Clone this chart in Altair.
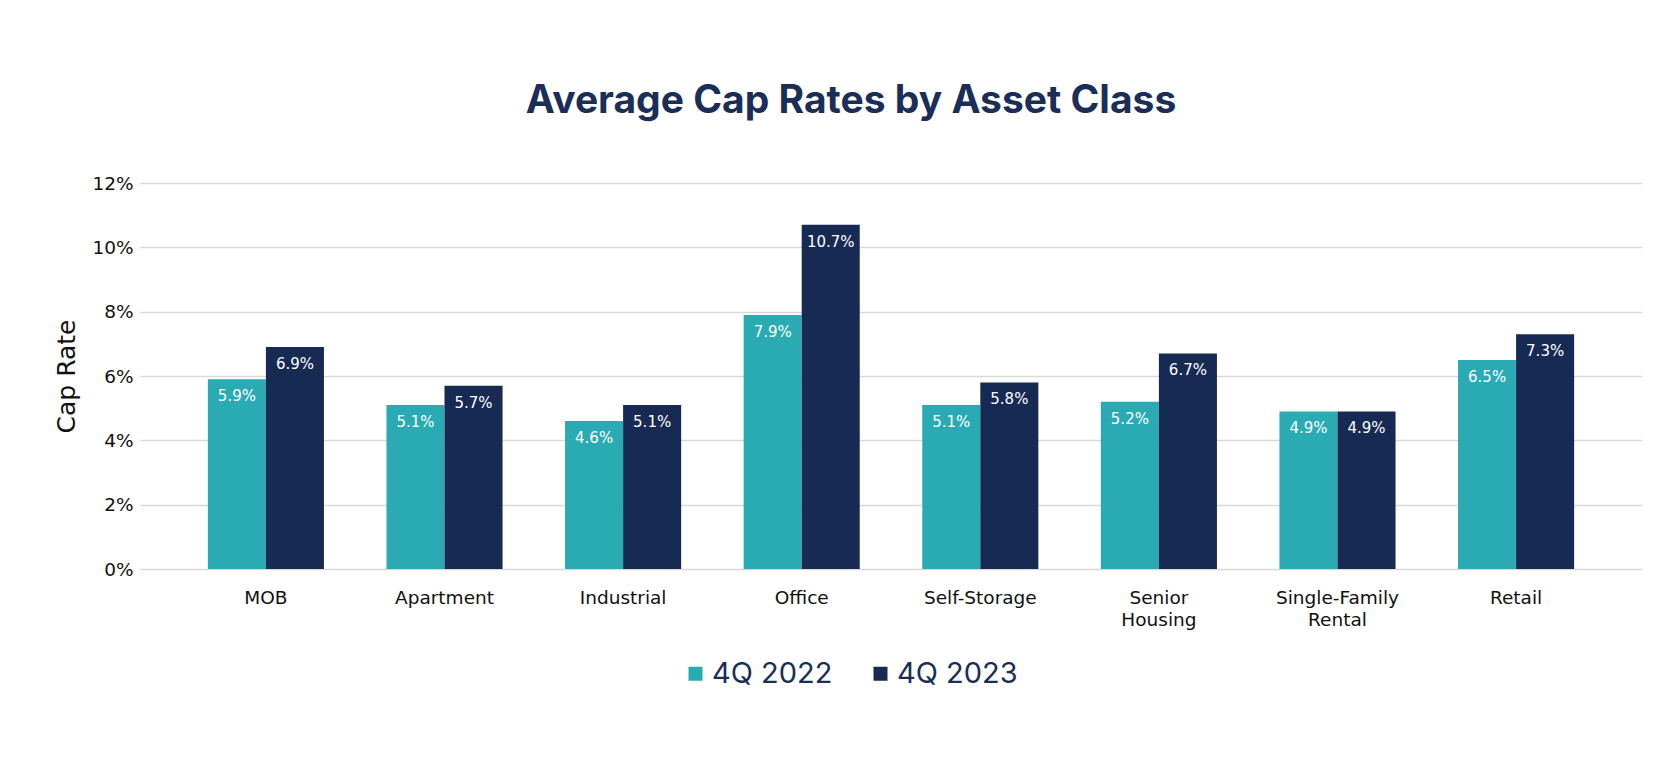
import altair as alt
import pandas as pd

categories = ["MOB", "Apartment", "Industrial", "Office", "Self-Storage",
              "Senior Housing", "Single-Family Rental", "Retail"]
series = ["4Q 2022", "4Q 2023"]
values_2022 = [5.9, 5.1, 4.6, 7.9, 5.1, 5.2, 4.9, 6.5]
values_2023 = [6.9, 5.7, 5.1, 10.7, 5.8, 6.7, 4.9, 7.3]
y_ticks = [0, 2, 4, 6, 8, 10, 12]
colors = ["#2AABB3", "#172A53"]

rows = []
for c, a, b in zip(categories, values_2022, values_2023):
    rows.append({"category": c, "series": series[0], "value": a})
    rows.append({"category": c, "series": series[1], "value": b})
df = pd.DataFrame(rows)
df["label"] = df["value"].map(lambda v: f"{v:.1f}%")

x = alt.X(
    "category:N", sort=categories, title=None,
    scale=alt.Scale(paddingInner=0.35, paddingOuter=0.38),
    axis=alt.Axis(labelAngle=0, labelExpr="split(datum.label, ' ')",
                  labelFont="DejaVu Sans", labelFontSize=18.5, labelColor="#111111",
                  labelPadding=19, ticks=False, domain=False, labelLineHeight=22,
                  grid=False),
)
y = alt.Y(
    "value:Q",
    scale=alt.Scale(domain=[0, 12], nice=False),
    axis=alt.Axis(values=y_ticks, labelExpr="datum.value + '%'", title="Cap Rate",
                  titleFont="DejaVu Sans", titleFontSize=25, titleFontWeight="normal",
                  titleColor="#111111", titlePadding=12, labelFont="DejaVu Sans",
                  labelFontSize=18.5, labelColor="#111111", labelPadding=7,
                  grid=True, gridColor="#d9d9d9", gridWidth=1.5, domain=False, ticks=False),
)
xoff = alt.XOffset("series:N", sort=series)

base = alt.Chart(df)
bars = base.mark_bar().encode(
    x=x, y=y, xOffset=xoff,
    color=alt.Color("series:N", sort=series,
                    scale=alt.Scale(domain=series, range=colors),
                    legend=alt.Legend(orient="none", legendX=541, legendY=476,
                                      direction="horizontal", title=None,
                                      symbolType="square", symbolSize=196,
                                      symbolStrokeWidth=0, symbolOpacity=1,
                                      labelFont="Inter", labelFontSize=29,
                                      labelColor="#1B2E57", columnPadding=33,
                                      labelOffset=2)),
)
labels = base.mark_text(color="white", font="DejaVu Sans", fontSize=15,
                        baseline="middle", dy=17).encode(
    x=x, y=y, xOffset=xoff, text="label:N"
)

chart = alt.layer(bars, labels).properties(
    width=1502, height=386,
    padding={"left": 132, "top": 175, "right": 17, "bottom": 183},
    autosize=alt.AutoSizeParams(type="none"),
    background="white",
    title=alt.TitleParams("Average Cap Rates by Asset Class", font="Inter",
                          fontSize=39, fontWeight="bold", color="#1B2E57",
                          anchor="middle", offset=53, dx=-40),
).configure_view(strokeWidth=0, stroke="transparent")

chart.save("out.html", embed_options={"renderer": "svg", "actions": False})
